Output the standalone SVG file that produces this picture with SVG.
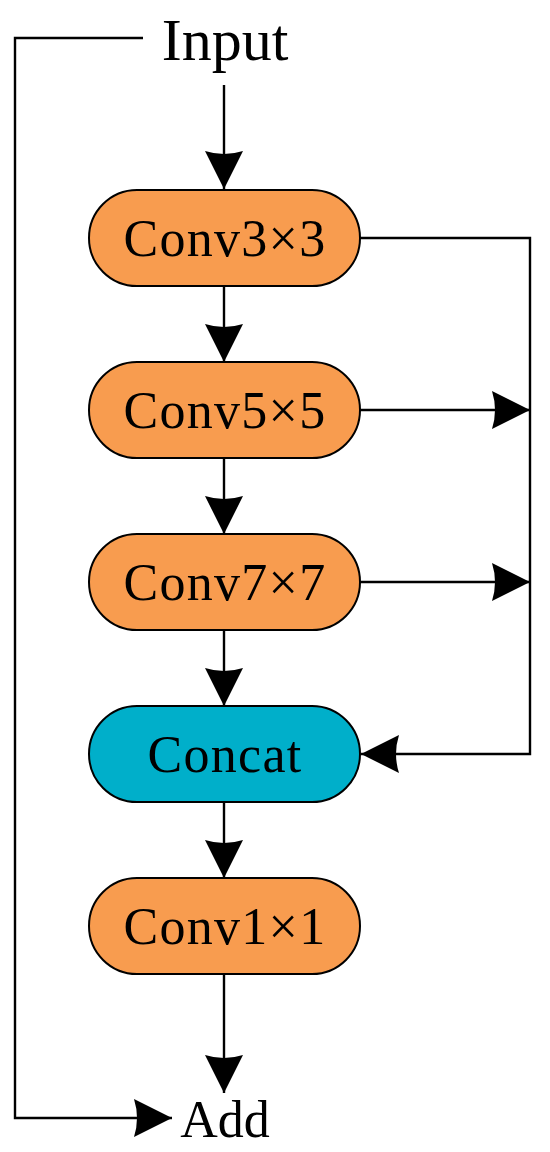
<svg xmlns="http://www.w3.org/2000/svg" width="550" height="1152" viewBox="0 0 550 1152">
<style>
  .conv { fill: #F89C4F; stroke: #000; stroke-width: 2; }
  .cat { fill: #00AFCA; stroke: #000; stroke-width: 2; }
  .lbl { font-family: "Liberation Serif", "Times New Roman", serif; font-size: 52px; fill: #000; text-anchor: middle; letter-spacing: 1.3px; }
  .io { font-family: "Liberation Serif", "Times New Roman", serif; fill: #000; text-anchor: middle; }
  .ln { fill: none; stroke: #000; stroke-width: 2.4; }
</style>
<defs>
  <marker id="ah" viewBox="-40 -20 41 40" refX="0" refY="0" markerWidth="41" markerHeight="40" markerUnits="userSpaceOnUse" orient="auto">
    <path d="M0,0 L-38,-19 Q-32,0 -38,19 Z" fill="#000"/>
  </marker>
</defs>
<rect width="550" height="1152" fill="#fff"/>
<g id="connectors">
  <path class="ln" d="M143,38 H15 V1118 H172" marker-end="url(#ah)"/>
  <path class="ln" d="M224,85 V189" marker-end="url(#ah)"/>
  <path class="ln" d="M224,286 V362" marker-end="url(#ah)"/>
  <path class="ln" d="M224,458 V534" marker-end="url(#ah)"/>
  <path class="ln" d="M224,630 V706" marker-end="url(#ah)"/>
  <path class="ln" d="M224,802 V878" marker-end="url(#ah)"/>
  <path class="ln" d="M224,974 V1093" marker-end="url(#ah)"/>
  <path class="ln" d="M360,238 H530 V754 H361" marker-end="url(#ah)"/>
  <path class="ln" d="M360,410 H530" marker-end="url(#ah)"/>
  <path class="ln" d="M360,582 H530" marker-end="url(#ah)"/>
</g>
<g id="input"><text class="io" x="225" y="60" font-size="60">Input</text></g>
<g id="conv3"><rect class="conv" x="89" y="190" width="271" height="96" rx="48"/><text class="lbl" x="225" y="256">Conv3×3</text></g>
<g id="conv5"><rect class="conv" x="89" y="362" width="271" height="96" rx="48"/><text class="lbl" x="225" y="428">Conv5×5</text></g>
<g id="conv7"><rect class="conv" x="89" y="534" width="271" height="96" rx="48"/><text class="lbl" x="225" y="600">Conv7×7</text></g>
<g id="concat"><rect class="cat" x="89" y="706" width="271" height="96" rx="48"/><text class="lbl" x="225" y="772">Concat</text></g>
<g id="conv1"><rect class="conv" x="89" y="878" width="271" height="96" rx="48"/><text class="lbl" x="225" y="944">Conv1×1</text></g>
<g id="add"><text class="io" x="225" y="1137" font-size="52">Add</text></g>
</svg>
